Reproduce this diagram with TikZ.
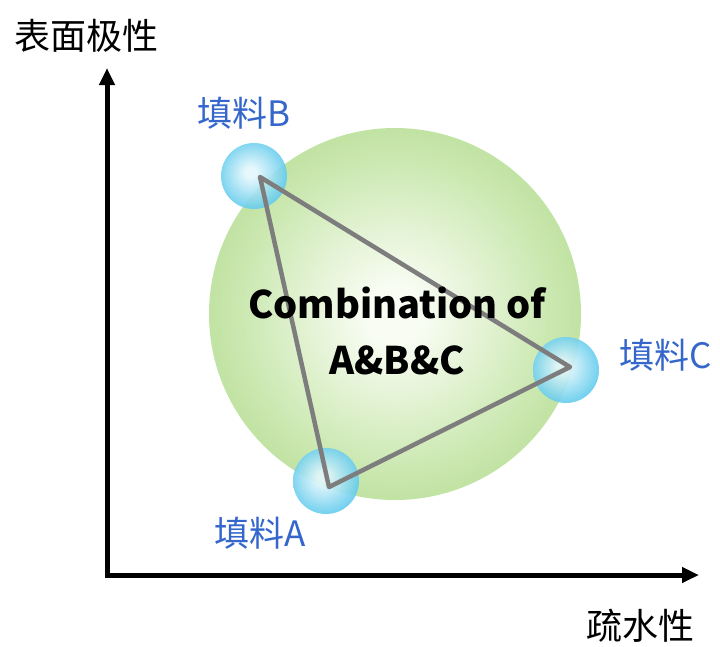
\documentclass[tikz,border=0pt]{standalone}
\usepackage{fontspec}
\newfontfamily\cjk{Noto Sans CJK SC}
\usetikzlibrary{arrows.meta}
\definecolor{greenout}{RGB}{168,214,128}
\definecolor{greenmid}{RGB}{205,233,180}
\definecolor{greenin}{RGB}{248,252,242}
\definecolor{blueout}{RGB}{78,196,234}
\definecolor{bluein}{RGB}{228,247,252}
\definecolor{lblblue}{RGB}{52,102,204}
\definecolor{trigray}{RGB}{125,125,125}
\pgfdeclareradialshading{greenball}{\pgfpoint{0bp}{0bp}}{color(0bp)=(greenin); color(4bp)=(greenin); color(20bp)=(greenmid); color(35bp)=(greenout); color(50bp)=(greenout)}
\pgfdeclareradialshading{blueball}{\pgfpoint{-3bp}{3bp}}{color(0bp)=(bluein); color(4bp)=(bluein); color(30bp)=(blueout); color(50bp)=(blueout)}
\tikzset{
  bigc/.style={circle, inner sep=0pt, minimum size=372pt, shading=greenball},
  ballc/.style={circle, inner sep=0pt, minimum size=66pt, shading=blueball, fill opacity=0.9},
  axis/.style={line width=5pt, {Triangle[length=17pt,width=15pt]}-{Triangle[length=17pt,width=15pt]}},
  tri/.style={draw=trigray, line width=4.5pt, line join=round},
  lbl/.style={font=\cjk\fontsize{35}{37}\selectfont, text=lblblue, inner sep=0pt},
  axlbl/.style={font=\cjk\fontsize{36}{38}\selectfont, text=black, inner sep=0pt},
  mid/.style={font=\cjk\bfseries\fontsize{38}{56}\selectfont, align=center, inner sep=0pt},
}
\begin{document}
\begin{tikzpicture}[x=1pt,y=-1pt]
\useasboundingbox (0,0) rectangle (720,646);
\node[bigc] (G) at (395,314) {};
\node[ballc] (bB) at (254,176) {};
\node[ballc] (bC) at (566,370) {};
\node[ballc] (bA) at (326,481) {};
\coordinate (vB) at (260,177);
\coordinate (vC) at (570,367);
\coordinate (vA) at (329,487);
\draw[tri] (vA) -- (vB) -- (vC) -- cycle;
\node[mid] (txt) at (397,331) {Combination of\\A\&B\&C};
\node[lbl] (lB) at (244,113) {填料B};
\node[lbl] (lC) at (666,355) {填料C};
\node[lbl] (lA) at (260,533) {填料A};
\coordinate (O) at (107,575);
\coordinate (Ytop) at (107,68);
\coordinate (Xend) at (699,575);
\draw[axis] (Ytop) |- (Xend);
\node[axlbl] (ylab) at (86,36) {表面极性};
\node[axlbl] (xlab) at (640,626) {疏水性};
\end{tikzpicture}
\end{document}
